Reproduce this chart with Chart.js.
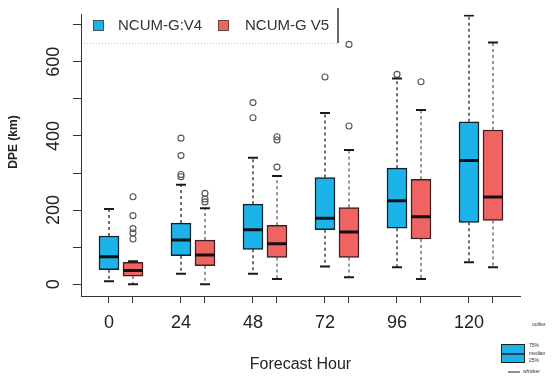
<!DOCTYPE html>
<html>
<head>
<meta charset="utf-8">
<script src="https://cdn.jsdelivr.net/npm/chart.js@4"></script>
<style>
  body { margin: 0; background: #fff; }
  #wrap { width: 555px; height: 390px; }
</style>
</head>
<body>
<div id="wrap"><canvas id="dpeChart"></canvas></div>
<script>
const hours = [0, 24, 48, 72, 96, 120];
const seriesNames = ['NCUM-G:V4', 'NCUM-G V5'];
const yLabels = [0, 200, 400, 600];

// NCUM-G:V4
const v4Min = [8, 28, 28, 48, 46, 59];
const v4Q1 = [39, 77, 94, 147, 151, 167];
const v4Med = [74, 119, 147, 178, 225, 334];
const v4Q3 = [130, 165, 216, 288, 313, 438];
const v4Max = [203, 268, 341, 462, 555, 725];
const v4Out = [[], [394, 347, 296, 290], [490, 449], [559], [566], []];

// NCUM-G V5
const v5Min = [0, 0, 14, 19, 14, 46];
const v5Q1 = [22, 50, 72, 72, 122, 172];
const v5Med = [37, 79, 109, 141, 182, 235];
const v5Q3 = [59, 119, 159, 207, 283, 416];
const v5Max = [62, 205, 292, 362, 470, 652];
const v5Out = [[236, 185, 150, 138, 122], [245, 230, 222], [398, 389, 316], [647, 427], [546], []];

const blue = '#1cb3e9';
const red = '#ef6461';
const shift = [0, 8]; // hours offset of each series box

Chart.defaults.font.family = "'Liberation Sans', Arial, sans-serif";
Chart.defaults.color = '#222';

function boxSet(q1, q3, off, fill, edge) {
  return {
    type: 'bar', order: 2, grouped: false, barThickness: 20,
    backgroundColor: fill, borderColor: edge, borderWidth: 1.5, borderSkipped: false,
    data: hours.map((h, i) => ({ x: h + off, y: [q1[i], q3[i]] }))
  };
}

function whiskerSet(lo, q1, q3, hi, off, col) {
  const pts = [];
  hours.forEach((h, i) => {
    pts.push({ x: h + off, y: q3[i] }, { x: h + off, y: hi[i] }, { x: h + off, y: null });
    pts.push({ x: h + off, y: q1[i] }, { x: h + off, y: lo[i] }, { x: h + off, y: null });
  });
  return {
    type: 'line', order: 3, data: pts, spanGaps: false,
    borderColor: col, borderWidth: 1.4, borderDash: [3, 3], pointRadius: 0
  };
}

function markSet(vals, off, r, w) {
  return {
    type: 'scatter', order: 1, pointStyle: 'line', pointRadius: r,
    pointBorderWidth: w, pointBorderColor: '#111', pointBackgroundColor: '#111',
    data: hours.map((h, i) => ({ x: h + off, y: vals[i] }))
  };
}

function capSet(lo, hi, off) {
  const pts = [];
  hours.forEach((h, i) => { pts.push({ x: h + off, y: lo[i] }, { x: h + off, y: hi[i] }); });
  return {
    type: 'scatter', order: 1, pointStyle: 'line', pointRadius: 5,
    pointBorderWidth: 2, pointBorderColor: '#1a1a1a', data: pts
  };
}

function outlierSet(out, off) {
  const pts = [];
  hours.forEach((h, i) => out[i].forEach(v => pts.push({ x: h + off, y: v })));
  return {
    type: 'scatter', order: 1, pointStyle: 'circle', pointRadius: 3,
    pointBorderWidth: 1.1, pointBorderColor: '#555', pointBackgroundColor: 'rgba(0,0,0,0)', data: pts
  };
}

const extras = {
  id: 'extras',
  afterDraw(chart) {
    const ctx = chart.ctx;
    ctx.save();
    // y title
    ctx.fillStyle = '#222';
    ctx.font = "bold 12px 'Liberation Sans', Arial";
    ctx.textAlign = 'center';
    ctx.textBaseline = 'middle';
    ctx.translate(14, 142);
    ctx.rotate(-Math.PI / 2);
    ctx.fillText('DPE (km)', 0, 0);
    ctx.restore();

    // legend
    ctx.save();
    ctx.strokeStyle = '#c8c8c8';
    ctx.lineWidth = 1;
    ctx.setLineDash([1, 2]);
    ctx.beginPath(); ctx.moveTo(84, 43.5); ctx.lineTo(338, 43.5); ctx.stroke();
    ctx.setLineDash([]);
    ctx.strokeStyle = '#333';
    ctx.lineWidth = 1.5;
    ctx.beginPath(); ctx.moveTo(338, 8); ctx.lineTo(338, 43); ctx.stroke();
    const cols = [blue, red];
    const bx = [93, 218];
    const tx = [118, 245];
    ctx.font = "15px 'Liberation Sans', Arial";
    ctx.textBaseline = 'middle';
    ctx.textAlign = 'left';
    for (let k = 0; k < 2; k++) {
      ctx.fillStyle = cols[k];
      ctx.fillRect(bx[k], 20, 11, 11);
      ctx.strokeStyle = '#444'; ctx.lineWidth = 0.8;
      ctx.strokeRect(bx[k] + 0.5, 20.5, 10, 10);
      ctx.fillStyle = '#333';
      ctx.fillText(seriesNames[k], tx[k], 26);
    }
    ctx.restore();

    // small key at lower right
    ctx.save();
    ctx.fillStyle = blue;
    ctx.fillRect(501, 344, 24, 19);
    ctx.strokeStyle = '#222'; ctx.lineWidth = 1;
    ctx.strokeRect(501.5, 344.5, 23, 18);
    ctx.lineWidth = 1.5;
    ctx.beginPath(); ctx.moveTo(501, 354); ctx.lineTo(525, 354); ctx.stroke();
    ctx.lineWidth = 1;
    ctx.beginPath(); ctx.moveTo(508, 372); ctx.lineTo(520, 372); ctx.stroke();
    ctx.fillStyle = '#333';
    ctx.font = "5px 'Liberation Sans', Arial";
    ctx.textBaseline = 'middle';
    ctx.textAlign = 'left';
    ctx.fillText('outlier', 532, 325);
    ctx.fillText('75%', 529, 346);
    ctx.fillText('median', 529, 354);
    ctx.fillText('25%', 529, 361);
    ctx.fillText('whisker', 523, 372);
    ctx.restore();
  }
};

const xTicks = [];
hours.forEach(h => shift.forEach(s => xTicks.push(h + s)));

new Chart(document.getElementById('dpeChart'), {
  type: 'bar',
  data: {
    datasets: [
      boxSet(v4Q1, v4Q3, shift[0], blue, '#10202e'),
      boxSet(v5Q1, v5Q3, shift[1], red, '#3a2020'),
      whiskerSet(v4Min, v4Q1, v4Q3, v4Max, shift[0], '#333'),
      whiskerSet(v5Min, v5Q1, v5Q3, v5Max, shift[1], '#666'),
      markSet(v4Med, shift[0], 10, 3),
      markSet(v5Med, shift[1], 10, 3),
      capSet(v4Min, v4Max, shift[0]),
      capSet(v5Min, v5Max, shift[1]),
      outlierSet(v4Out, shift[0]),
      outlierSet(v5Out, shift[1])
    ]
  },
  options: {
    responsive: true,
    maintainAspectRatio: false,
    animation: false,
    layout: { padding: { left: 0, top: 10, right: 35, bottom: 0 } },
    plugins: { legend: { display: false }, tooltip: { enabled: false } },
    scales: {
      x: {
        type: 'linear', min: -9.33, max: 137, offset: false,
        afterBuildTicks: s => { s.ticks = xTicks.map(v => ({ value: v })); },
        afterFit: s => { s.height = 94; },
        grid: { display: true, offset: false, drawOnChartArea: false, drawTicks: true, tickLength: 7, color: '#333' },
        border: { display: true, color: '#333', width: 1 },
        ticks: {
          autoSkip: false, maxRotation: 0, padding: 9, color: '#222',
          font: { size: 18 },
          callback: v => hours.includes(v) ? String(v) : ''
        },
        title: { display: true, text: 'Forecast Hour', color: '#222', font: { size: 16 }, padding: { top: 0, bottom: 16 } }
      },
      y: {
        type: 'linear', min: -31.8, max: 726.8,
        afterBuildTicks: s => { s.ticks = [0, 100, 200, 300, 400, 500, 600, 700].map(v => ({ value: v })); },
        afterFit: s => { s.width = 81; },
        grid: { display: true, drawOnChartArea: false, drawTicks: true, tickLength: 8, color: '#333' },
        border: { display: true, color: '#333', width: 1 },
        ticks: {
          autoSkip: false, minRotation: 90, maxRotation: 90, crossAlign: 'center', padding: 4,
          color: '#222', font: { size: 18 },
          callback: v => yLabels.includes(v) ? String(v) : ''
        }
      }
    }
  },
  plugins: [extras]
});
</script>
</body>
</html>
